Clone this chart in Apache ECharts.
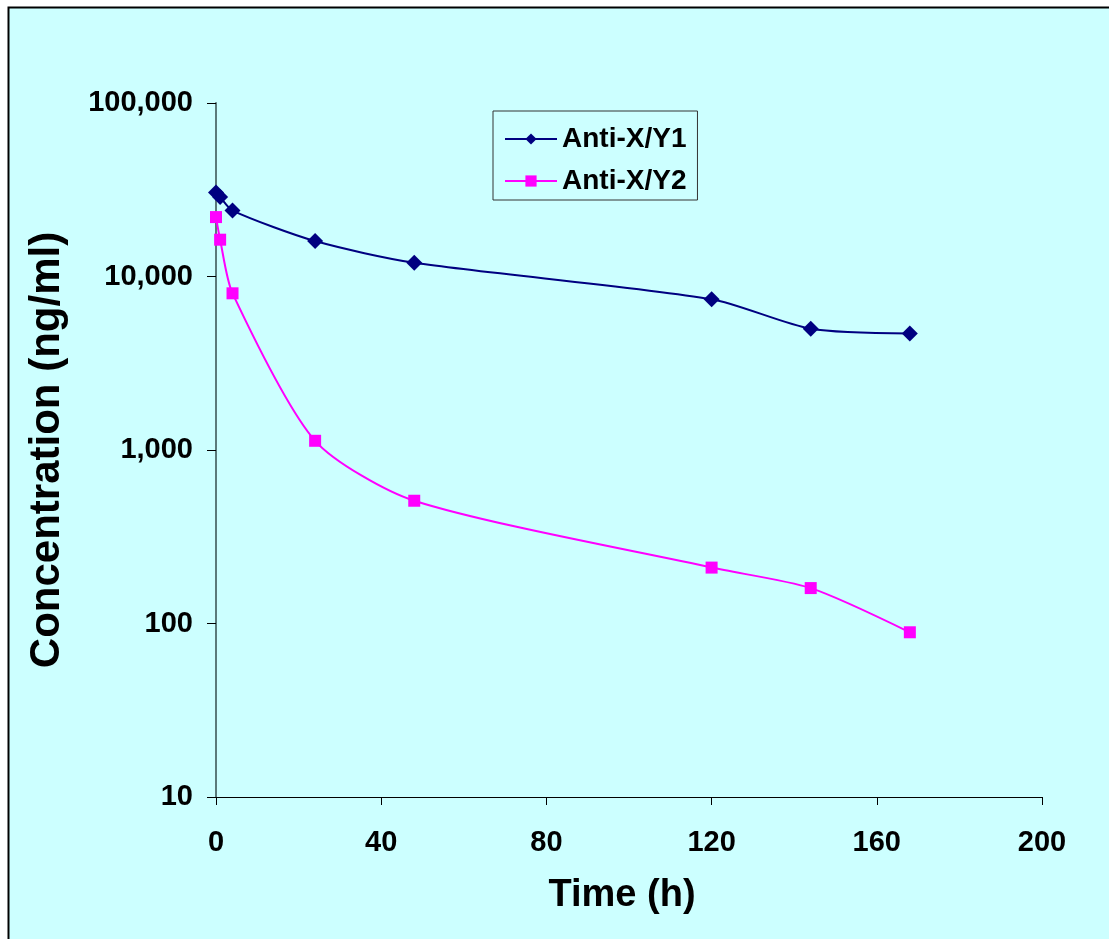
<!DOCTYPE html>
<html>
<head>
<meta charset="utf-8">
<script src="https://cdn.jsdelivr.net/npm/echarts@6/dist/echarts.min.js"></script>
<style>
  html, body { margin: 0; padding: 0; background: #fff; }
  #myChart { width: 1109px; height: 939px; }
</style>
</head>
<body>
<div id="myChart"></div>
<script>
// sampling times (h)
var timeH = [0, 1, 4, 24, 48, 120, 144, 168];
// concentrations (ng/ml)
var y1Values = [30500, 28700, 24000, 16000, 12000, 7400, 5000, 4700];
var y2Values = [22000, 16300, 8000, 1130, 510, 210, 160, 89];
var seriesNames = ['Anti-X/Y1', 'Anti-X/Y2'];
var xTicks = [0, 40, 80, 120, 160, 200];

function pairs(xs, ys) {
  var out = [];
  for (var i = 0; i < xs.length; i++) out.push([xs[i], ys[i]]);
  return out;
}

var font = 'Liberation Sans, Arial, sans-serif';
var myChart = echarts.init(document.getElementById('myChart'));
myChart.setOption({
  backgroundColor: '#fff',
  animation: false,
  graphic: [{
    type: 'rect',
    z: -10,
    shape: { x: 8.5, y: 7.5, width: 1120, height: 950 },
    style: { fill: '#ccffff', stroke: '#000', lineWidth: 2 }
  }],
  legend: {
    left: 493,
    top: 111,
    orient: 'vertical',
    padding: [14, 11, 5, 11],
    itemGap: 14,
    itemWidth: 52,
    itemHeight: 14,
    borderColor: '#333',
    borderWidth: 1,
    backgroundColor: '#ccffff',
    textStyle: { fontFamily: font, fontWeight: 'bold', fontSize: 28, color: '#000' },
    data: seriesNames
  },
  grid: { left: 216, right: 67, top: 103, bottom: 142 },
  xAxis: {
    type: 'value',
    min: 0,
    max: 200,
    interval: 40,
    name: 'Time (h)',
    nameLocation: 'middle',
    nameGap: 80,
    nameTextStyle: { fontFamily: font, fontWeight: 'bold', fontSize: 38, color: '#000', padding: [0, 14, 0, 0] },
    splitLine: { show: false },
    axisLine: { lineStyle: { color: '#000', width: 1 } },
    axisTick: { length: 8, lineStyle: { color: '#000' } },
    axisLabel: {
      margin: 31,
      fontFamily: font, fontWeight: 'bold', fontSize: 29, color: '#000',
      formatter: function (v) { return xTicks.indexOf(v) >= 0 ? String(v) : ''; }
    }
  },
  yAxis: {
    type: 'log',
    logBase: 10,
    min: 10,
    max: 100000,
    name: 'Concentration (ng/ml)',
    nameLocation: 'middle',
    nameGap: 148,
    nameTextStyle: { fontFamily: font, fontWeight: 'bold', fontSize: 42, color: '#000' },
    splitLine: { show: false },
    axisLine: { lineStyle: { color: '#5a7a7a', width: 2 } },
    axisTick: { length: 9, lineStyle: { color: '#000' } },
    minorTick: { show: false },
    axisLabel: {
      margin: 23,
      fontFamily: font, fontWeight: 'bold', fontSize: 29, color: '#000',
      formatter: function (v) { return Math.round(v).toLocaleString('en-US'); }
    }
  },
  series: [{
    name: seriesNames[0],
    type: 'line',
    smooth: 0.25,
    symbol: 'diamond',
    symbolSize: 16,
    itemStyle: { color: '#000080' },
    lineStyle: { color: '#000080', width: 2 },
    data: pairs(timeH, y1Values)
  }, {
    name: seriesNames[1],
    type: 'line',
    smooth: 0.25,
    symbol: 'rect',
    symbolSize: 12,
    itemStyle: { color: '#ff00ff' },
    lineStyle: { color: '#ff00ff', width: 2 },
    data: pairs(timeH, y2Values)
  }]
});
</script>
</body>
</html>
